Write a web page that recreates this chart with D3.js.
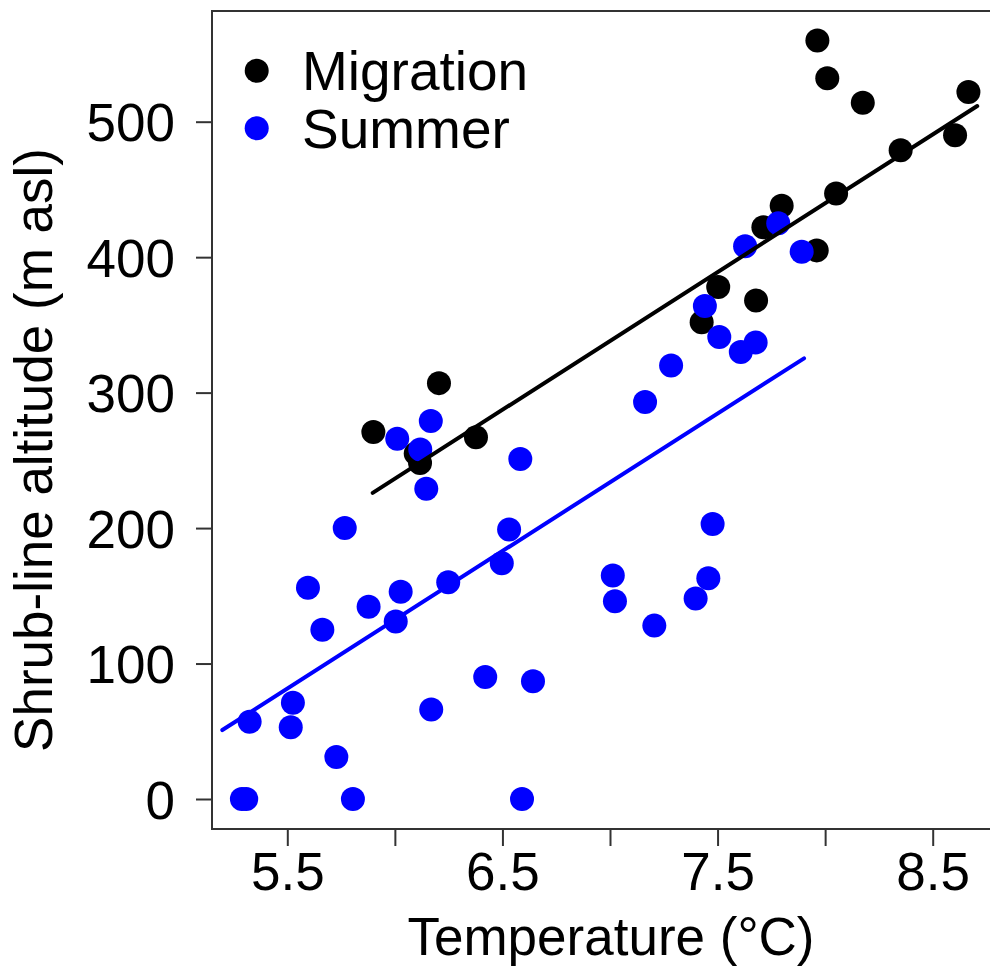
<!DOCTYPE html>
<html>
<head>
<meta charset="utf-8">
<script src="https://cdn.jsdelivr.net/npm/d3@7"></script>
<style>
  html, body { margin: 0; background: #fff; overflow: hidden; }
  svg { display: block; }
  svg text { font-family: "Liberation Sans", Arial, Helvetica, sans-serif; fill: #000; }
</style>
</head>
<body>
<div id="scatter"></div>
<script>
// Data
var migTemp = [5.900, 6.097, 6.117, 6.205, 6.377, 7.426, 7.503, 7.679, 7.713, 7.798,
               7.961, 7.964, 8.010, 8.051, 8.175, 8.351, 8.604, 8.666];
var migAlt  = [271, 255, 248, 307, 267, 352, 378, 368, 422, 438,
               405, 560, 532, 447, 514, 479, 490, 522];

var sumTemp = [5.289, 5.309, 5.325, 5.516, 5.526, 5.596, 5.663, 5.728, 5.767, 5.805,
               5.878, 6.004, 6.011, 6.027, 6.118, 6.146, 6.167, 6.169, 6.248, 6.420,
               6.497, 6.531, 6.583, 6.591, 6.642, 7.013, 7.023, 7.163, 7.206, 7.284,
               7.398, 7.441, 7.457, 7.477, 7.508, 7.608, 7.628, 7.677, 7.782, 7.891];
var sumAlt  = [0, 0, 57, 53, 71, 156, 125, 31, 200, 0,
               142, 131, 266, 153, 258, 229, 279, 66, 160, 90,
               174, 199, 251, 0, 87, 165, 146, 293, 128, 320,
               148, 364, 163, 203, 341, 330, 408, 337, 425, 404];

// Fitted lines (end points)
var migLineTemp = [5.897, 8.707];
var migLineAlt  = [226, 511.6];
var sumLineTemp = [5.198, 7.902];
var sumLineAlt  = [50.9, 325.3];

// Ticks
var xTicks = [5.5, 6, 6.5, 7, 7.5, 8, 8.5];
var xTickLabels = ["5.5", "", "6.5", "", "7.5", "", "8.5"];
var yTicks = [0, 100, 200, 300, 400, 500];

var seriesNames = ["Migration", "Summer"];
var seriesColors = ["#000000", "#0000ff"];

// Dimensions
var svgWidth = 990;
var svgHeight = 966;
var box = { left: 212, top: 11, right: 1010, bottom: 829 };
var radius = 12;
var fontSize = 53;

var svg = d3.select("#scatter")
  .append("svg")
  .attr("width", svgWidth)
  .attr("height", svgHeight);

var xScale = d3.scaleLinear().domain([5.5, 8.5]).range([287.3, 932.7]);
var yScale = d3.scaleLinear().domain([0, 500]).range([799, 121.7]);

// Axes
var xAxis = svg.append("g")
  .attr("transform", `translate(0, ${box.bottom})`)
  .call(d3.axisBottom(xScale)
    .tickValues(xTicks)
    .tickFormat((d, i) => xTickLabels[i])
    .tickSize(17)
    .tickPadding(6));

var yAxis = svg.append("g")
  .attr("transform", `translate(${box.left}, 0)`)
  .call(d3.axisLeft(yScale)
    .tickValues(yTicks)
    .tickFormat(d3.format("d"))
    .tickSize(16)
    .tickPadding(21));

[xAxis, yAxis].forEach(function(ax) {
  ax.select(".domain").remove();
  ax.selectAll("line").attr("stroke", "#333").attr("stroke-width", 2);
  ax.selectAll("text")
    .attr("font-size", fontSize)
    .attr("font-family", "Liberation Sans, Arial, sans-serif")
    .attr("fill", "#000");
});
yAxis.selectAll("text").attr("dy", "0.36em");

// Plot frame (right side runs off the page)
svg.append("path")
  .attr("d", `M${box.right},${box.top}H${box.left}V${box.bottom}H${box.right}`)
  .attr("fill", "none")
  .attr("stroke", "#333")
  .attr("stroke-width", 2);

// Points: migration first, summer on top
var migData = migTemp.map((t, i) => ({ t: t, a: migAlt[i] }));
var sumData = sumTemp.map((t, i) => ({ t: t, a: sumAlt[i] }));

svg.append("g").selectAll("circle")
  .data(migData)
  .enter()
  .append("circle")
  .attr("cx", d => xScale(d.t))
  .attr("cy", d => yScale(d.a))
  .attr("r", radius)
  .attr("fill", seriesColors[0]);

svg.append("g").selectAll("circle")
  .data(sumData)
  .enter()
  .append("circle")
  .attr("cx", d => xScale(d.t))
  .attr("cy", d => yScale(d.a))
  .attr("r", radius)
  .attr("fill", seriesColors[1]);

// Regression lines
var line = d3.line()
  .x(d => xScale(d[0]))
  .y(d => yScale(d[1]));

svg.append("path")
  .datum(sumLineTemp.map((t, i) => [t, sumLineAlt[i]]))
  .attr("d", line)
  .attr("fill", "none")
  .attr("stroke", seriesColors[1])
  .attr("stroke-width", 4)
  .attr("stroke-linecap", "round");

svg.append("path")
  .datum(migLineTemp.map((t, i) => [t, migLineAlt[i]]))
  .attr("d", line)
  .attr("fill", "none")
  .attr("stroke", seriesColors[0])
  .attr("stroke-width", 4)
  .attr("stroke-linecap", "round");

// Legend
var legend = svg.append("g");
seriesNames.forEach(function(name, i) {
  var y = 70.7 + i * 57.6;
  legend.append("circle")
    .attr("cx", 256.7)
    .attr("cy", y)
    .attr("r", radius)
    .attr("fill", seriesColors[i]);
  legend.append("text")
    .attr("x", 302)
    .attr("y", y + 19.5)
    .attr("font-size", 55)
    .text(name);
});

// Axis titles
svg.append("text")
  .attr("x", 611)
  .attr("y", 955)
  .attr("text-anchor", "middle")
  .attr("font-size", fontSize)
  .text("Temperature (°C)");

svg.append("text")
  .attr("transform", "translate(52, 450) rotate(-90)")
  .attr("text-anchor", "middle")
  .attr("font-size", fontSize)
  .text("Shrub-line altitude (m asl)");
</script>
</body>
</html>
